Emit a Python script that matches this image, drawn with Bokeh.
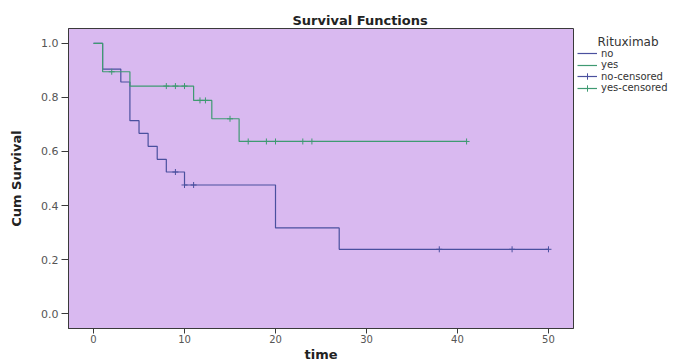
from bokeh.plotting import figure
from bokeh.layouts import row
from bokeh.models import (Legend, LegendItem, FixedTicker, NumeralTickFormatter, Range1d,
                          ColumnDataSource, Label)
from bokeh.embed import file_html
from bokeh.resources import INLINE

# ---- data ----
no_time = [0, 1, 3, 4, 5, 6, 7, 8, 10, 20, 27, 50]
no_surv = [1.0, 0.905, 0.857, 0.714, 0.667, 0.619, 0.571, 0.524, 0.476, 0.317, 0.238, 0.238]
yes_time = [0, 1, 4, 11, 13, 16, 41]
yes_surv = [1.0, 0.895, 0.842, 0.789, 0.721, 0.637, 0.637]
no_cens_time = [9, 10, 11, 38, 46, 50]
no_cens_surv = [0.524, 0.476, 0.476, 0.238, 0.238, 0.238]
yes_cens_time = [2, 8, 9, 10, 11.7, 12.3, 15, 17, 19, 20, 23, 24, 41]
yes_cens_surv = [0.895, 0.842, 0.842, 0.842, 0.789, 0.789, 0.721, 0.637, 0.637, 0.637, 0.637, 0.637, 0.637]
x_ticks = [0, 10, 20, 30, 40, 50]
y_ticks = [0.0, 0.2, 0.4, 0.6, 0.8, 1.0]
legend_title = "Rituximab"
legend_labels = ["no", "yes", "no-censored", "yes-censored"]

NO_COLOR = "#4a509e"
YES_COLOR = "#3f9a72"
BG = "#d9b9f0"
FONT = "DejaVu Sans"

TOP, BOTTOM = 28, 330          # page y of the plot frame
H = 364

# ---------------- main plot ----------------
p = figure(width=575, height=H, output_backend="svg", toolbar_location=None,
           x_range=Range1d(-2.75, 52.75), y_range=Range1d(-0.055, 1.055),
           min_border_left=68, min_border_right=2, min_border_top=TOP, min_border_bottom=H - BOTTOM,
           background_fill_color=BG, border_fill_color="white",
           outline_line_color="#3a3a3a", outline_line_width=1)
p.grid.visible = False

p.title.text = "Survival Functions"
p.title.align = "left"
p.title.offset = 224
p.title.standoff = 2
p.title.text_font = FONT
p.title.text_font_style = "bold"
p.title.text_font_size = "13px"
p.title.text_color = "#222222"

for ax in (p.xaxis[0], p.yaxis[0]):
    ax.axis_line_color = "#3a3a3a"
    ax.major_tick_line_color = "#3a3a3a"
    ax.minor_tick_line_color = None
    ax.major_tick_in = 0
    ax.major_label_text_color = "#555555"
    ax.major_label_text_font = FONT
    ax.axis_label_text_font = FONT
    ax.axis_label_text_font_style = "bold"
    ax.axis_label_text_font_size = "13px"
    ax.axis_label_text_color = "#222222"

p.xaxis.ticker = FixedTicker(ticks=x_ticks)
p.yaxis.ticker = FixedTicker(ticks=y_ticks)
p.yaxis.formatter = NumeralTickFormatter(format="0.0")
p.xaxis.major_tick_out = 5
p.xaxis.major_label_standoff = 1
p.xaxis.major_label_text_font_size = "10px"
p.xaxis.axis_label = "time"
p.xaxis.axis_label_standoff = 1
p.yaxis.major_tick_out = 7
p.yaxis.major_label_standoff = 3
p.yaxis.major_label_text_font_size = "11px"
p.yaxis.axis_label = "Cum Survival"
p.yaxis.axis_label_standoff = 14

src_no = ColumnDataSource(dict(t=no_time, s=no_surv))
src_yes = ColumnDataSource(dict(t=yes_time, s=yes_surv))
src_nc = ColumnDataSource(dict(t=no_cens_time, s=no_cens_surv))
src_yc = ColumnDataSource(dict(t=yes_cens_time, s=yes_cens_surv))

p.step(x="t", y="s", source=src_no, mode="after", line_color=NO_COLOR, line_width=1.2)
p.step(x="t", y="s", source=src_yes, mode="after", line_color=YES_COLOR, line_width=1.2)
p.scatter(x="t", y="s", source=src_nc, marker="cross", size=6, line_color=NO_COLOR, line_width=1)
p.scatter(x="t", y="s", source=src_yc, marker="cross", size=6, line_color=YES_COLOR, line_width=1)

# ---------------- legend panel (separate figure; its frame is aligned with the main frame) ----------------
LW = 123
q = figure(width=LW, height=H, output_backend="svg", toolbar_location=None,
           x_range=Range1d(0, LW), y_range=Range1d(BOTTOM, TOP),   # data y == page y
           min_border_left=0, min_border_right=0, min_border_top=TOP, min_border_bottom=H - BOTTOM,
           x_axis_location=None, y_axis_location=None,
           background_fill_color="white", border_fill_color="white", outline_line_color=None)
q.grid.visible = False

# swatch renderers for the legend (kept outside the visible range)
sw = ColumnDataSource(dict(t=[-100, -90], s=[-100, -100]))
q_no = q.line(x="t", y="s", source=sw, line_color=NO_COLOR, line_width=1.2)
q_yes = q.line(x="t", y="s", source=sw, line_color=YES_COLOR, line_width=1.2)
q_nc = q.scatter(x="t", y="s", source=sw, marker="cross", size=6, line_color=NO_COLOR, line_width=1)
q_yc = q.scatter(x="t", y="s", source=sw, marker="cross", size=6, line_color=YES_COLOR, line_width=1)

q.add_layout(Label(x=22, y=42, text=legend_title, text_align="left", text_baseline="alphabetic",
                   text_font=FONT, text_font_size="12px", text_color="#333333"))

item_renderers = [[q_no], [q_yes], [q_no, q_nc], [q_yes, q_yc]]
row_centers = [55, 66.5, 78, 89.5]   # page y of each legend row box
for lab, rends, c in zip(legend_labels, item_renderers, row_centers):
    lg = Legend(items=[LegendItem(label=lab, renderers=rends)],
                location=(2, BOTTOM - (c + 8)),
                padding=0, margin=0, spacing=0,
                glyph_width=20, glyph_height=16, label_height=16, label_standoff=4,
                label_text_font=FONT, label_text_font_size="10px", label_text_color="#333333",
                border_line_color=None, background_fill_alpha=0)
    q.add_layout(lg)

layout = row(p, q, spacing=0)
open("out.html", "w").write(file_html(layout, INLINE))
